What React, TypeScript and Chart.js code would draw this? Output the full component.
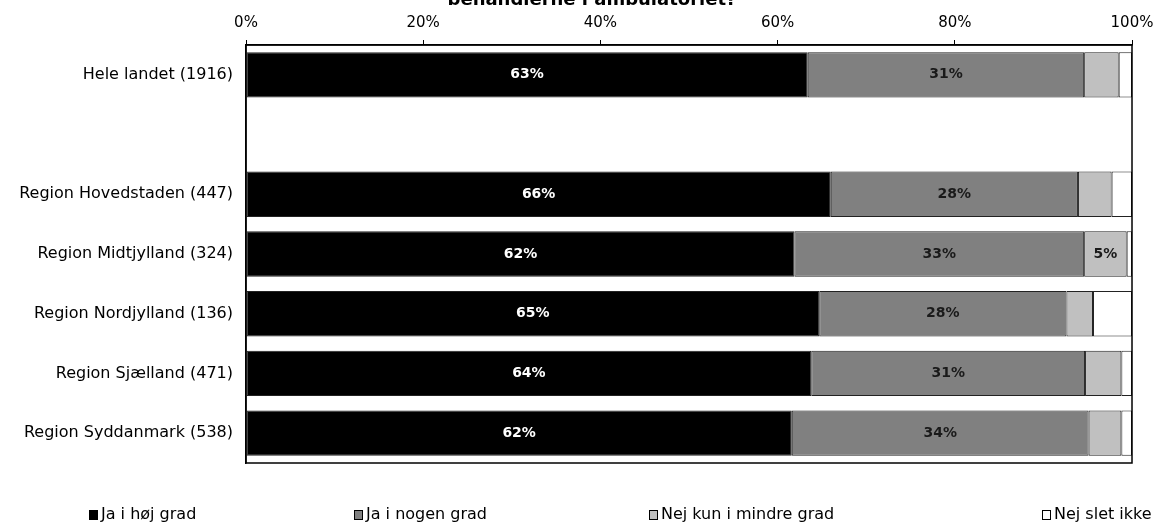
import React, { useEffect, useRef } from "react";
import { Chart, registerables } from "chart.js";

Chart.register(...registerables);

const TITLE = "behandlerne i ambulatoriet?";
const categories = [
  "Hele landet (1916)",
  "",
  "Region Hovedstaden (447)",
  "Region Midtjylland (324)",
  "Region Nordjylland (136)",
  "Region Sjælland (471)",
  "Region Syddanmark (538)",
];
const seriesNames = ["Ja i høj grad", "Ja i nogen grad", "Nej kun i mindre grad", "Nej slet ikke"];
const jaHoej = [63.4, null, 66.0, 61.9, 64.7, 63.8, 61.6];
const jaNogen = [31.2, null, 27.9, 32.7, 27.9, 30.9, 33.5];
const nejMindre = [3.9, null, 3.8, 4.8, 3.0, 4.1, 3.7];
const nejSlet = [1.5, null, 2.3, 0.6, 4.4, 1.2, 1.2];
const xTicks = [0, 20, 40, 60, 80, 100];

const colors = ["#000000", "#808080", "#c0c0c0", "#ffffff"];
const labelColors = ["#ffffff", "#1a1a1a", "#1a1a1a", "#1a1a1a"];
const legendX = [89, 354, 649, 1042];
const FONT = "'DejaVu Sans', sans-serif";

const extrasPlugin = {
  id: "extras",
  afterDatasetsDraw(chart: any) {
    const ctx = chart.ctx;
    const area = chart.chartArea;
    ctx.save();
    chart.data.datasets.forEach((ds: any, di: number) => {
      const meta = chart.getDatasetMeta(di);
      meta.data.forEach((el: any, i: number) => {
        const v = ds.data[i];
        if (v == null || Math.round(v) < 5) return;
        const cx = (el.x + el.base) / 2;
        ctx.fillStyle = labelColors[di];
        ctx.font = `bold 14px ${FONT}`;
        ctx.textAlign = "center";
        ctx.textBaseline = "middle";
        ctx.fillText(Math.round(v) + "%", cx, el.y);
      });
    });
    ctx.strokeStyle = "#000";
    ctx.lineWidth = 1.5;
    ctx.strokeRect(area.left, area.top, area.right - area.left, area.bottom - area.top);
    ctx.fillStyle = "#000";
    ctx.font = `bold 18px ${FONT}`;
    ctx.textAlign = "center";
    ctx.textBaseline = "alphabetic";
    ctx.fillText(TITLE, 592, 5);
    ctx.font = `16px ${FONT}`;
    ctx.textBaseline = "middle";
    ctx.textAlign = "left";
    seriesNames.forEach((name, i) => {
      const x = legendX[i];
      const y = 515;
      ctx.fillStyle = colors[i];
      ctx.fillRect(x, y - 5, 9, 10);
      ctx.strokeStyle = "#000";
      ctx.lineWidth = 1;
      ctx.strokeRect(x + 0.5, y - 4.5, 8, 9);
      ctx.fillStyle = "#000";
      ctx.fillText(name, x + 12, y);
    });
    ctx.restore();
  },
};

export default function App() {
  const ref = useRef<HTMLCanvasElement>(null);
  useEffect(() => {
    document.body.style.margin = "0";
    const data = [jaHoej, jaNogen, nejMindre, nejSlet];
    const chart = new Chart(ref.current!, {
      type: "bar",
      data: {
        labels: categories,
        datasets: seriesNames.map((n, i) => ({
          label: n,
          data: data[i] as any,
          backgroundColor: colors[i],
          borderColor: "#222",
          borderWidth: 1,
          borderSkipped: false,
          categoryPercentage: 1,
          barPercentage: 0.76,
        })),
      },
      options: {
        indexAxis: "y",
        animation: false,
        responsive: false,
        layout: { padding: { left: 0, right: 30, top: 0, bottom: 65 } },
        plugins: { legend: { display: false }, tooltip: { enabled: false } },
        scales: {
          x: {
            position: "top",
            stacked: true,
            min: 0,
            max: 100,
            afterBuildTicks(scale: any) {
              scale.ticks = xTicks.map((v) => ({ value: v }));
            },
            afterFit(scale: any) {
              scale.height = 45;
            },
            ticks: {
              callback: (v: any) => v + "%",
              color: "#000",
              font: { family: FONT, size: 15 },
              padding: 8,
              maxRotation: 0,
            },
            grid: { drawOnChartArea: false, drawTicks: true, tickLength: 5, color: "#000", lineWidth: 1 },
            border: { display: true, color: "#000", width: 1.5 },
          },
          y: {
            stacked: true,
            afterFit(scale: any) {
              scale.width = 246;
            },
            ticks: {
              color: "#000",
              font: { family: FONT, size: 16 },
              padding: 13,
            },
            grid: { display: false, drawTicks: false },
            border: { display: true, color: "#000", width: 1.5 },
          },
        },
      },
      plugins: [extrasPlugin],
    });
    return () => chart.destroy();
  }, []);
  return <canvas ref={ref} width={1162} height={528} style={{ display: "block" }} />;
}
